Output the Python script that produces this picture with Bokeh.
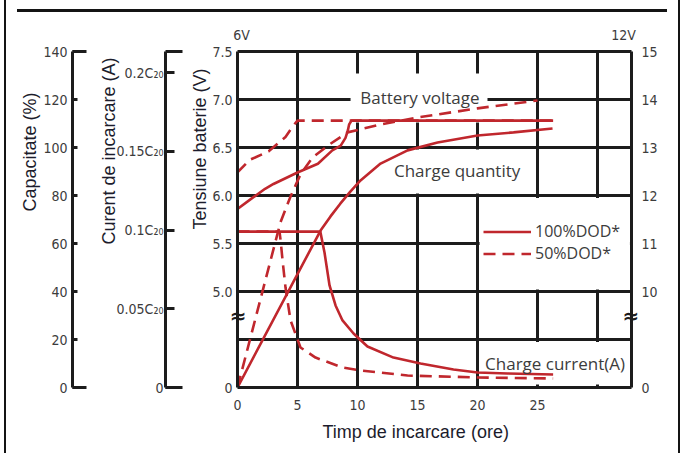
from bokeh.plotting import figure
from bokeh.models import (Range1d, LinearAxis, FixedTicker, Title, Label, Legend,
                          LegendItem, Grid, InlineStyleSheet)
from bokeh.embed import file_html
from bokeh.resources import INLINE

# ---------------- data ----------------
HOUR_MAX = 32.83
CUR_TOP = 0.2134

# battery voltage (6 V scale)
v100_h = [0, 1.3, 2.3, 3.0, 5.0, 6.7, 7.9, 8.6, 9.0, 9.2, 9.3, 9.5, 26.3]
v100_v = [5.86, 5.98, 6.07, 6.12, 6.24, 6.33, 6.47, 6.52, 6.60, 6.68, 6.74, 6.78, 6.78]
v50_h = [0, 1.0, 2.6, 4.0, 4.6, 5.0, 26.3]
v50_v = [6.24, 6.37, 6.46, 6.61, 6.72, 6.78, 6.78]

# charge current (multiples of C20)
i100_h = [0, 6.9, 7.25, 7.67, 8.17, 8.75, 9.67, 10.83, 13.0, 15.25, 18.0, 20.0, 22.5, 26.3]
i100_c = [0.099, 0.099, 0.0857, 0.0648, 0.0521, 0.0426, 0.0343, 0.026, 0.019, 0.0152,
          0.0114, 0.0095, 0.0089, 0.0083]
i50_h = [0, 3.5, 3.6, 3.75, 4.0, 4.42, 5.25, 6.5, 8.75, 10.25, 14.17, 20.0, 26.3]
i50_c = [0.099, 0.099, 0.093, 0.081, 0.0635, 0.0426, 0.0254, 0.019, 0.0127, 0.0108,
         0.0076, 0.0064, 0.0057]

# charge quantity (% of capacity)
q100_h = [0, 6.92, 7.75, 8.58, 9.42, 10.25, 11.92, 14.17, 16.67, 20.0, 23.0, 26.25]
q100_p = [0, 65.4, 71.3, 76.7, 81.7, 86.3, 93.3, 98.8, 102.1, 105.0, 106.3, 107.9]
q50_h = [0, 3.58, 4.42, 5.25, 6.25, 7.67, 9.17, 11.92, 15.0, 20.0, 25.0]
q50_p = [0, 68.8, 79.6, 88.8, 95.8, 101.3, 106.3, 109.6, 112.5, 116.3, 119.6]

# ticks and tick labels
hour_ticks = [0, 5, 10, 15, 20, 25]
grid_hours = [0, 5, 10, 15, 20, 25, 30]
grid_volts = [4.0, 4.5, 5.0, 5.5, 6.0, 6.5, 7.0, 7.5]
volt_ticks = [4.0, 5.0, 5.5, 6.0, 6.5, 7.0, 7.5]
volt_labels = ["0", "5.0", "5.5", "6.0", "6.5", "7.0", "7.5"]
volt12_labels = ["0", "10", "11", "12", "13", "14", "15"]
cap_ticks = [0, 20, 40, 60, 80, 100, 120, 140]
cur_ticks = [0, 0.05, 0.1, 0.15, 0.2]
cur_labels = ["0", "0.05C\u2082\u2080", "0.1C\u2082\u2080", "0.15C\u2082\u2080", "0.2C\u2082\u2080"]
scale_ticks = [0.33, 32.17]
scale_labels = ["6V", "12V"]
break_ticks = [4.75]
break_labels = ["\u2248"]

# ---------------- styles ----------------
RED = "#c0272d"
INK = "#1c1c1c"
GREY = "#3c3c3c"
TITLE_C = "#1c1c2c"
NARROW = "'Liberation Sans Narrow', 'DejaVu Sans Condensed', 'Liberation Sans', sans-serif"
SANS = "Liberation Sans"
GEO = "Open Sans"

p = figure(width=686, height=453, x_range=Range1d(0, HOUR_MAX), y_range=Range1d(4.0, 7.5),
           x_axis_location=None, y_axis_location=None, toolbar_location=None,
           output_backend="svg", min_border_left=237, min_border_right=55,
           min_border_top=51, min_border_bottom=66, outline_line_color=None,
           background_fill_color="white", border_fill_color="white", title=None)
p.extra_y_ranges = {"cap": Range1d(0, 140), "cur": Range1d(0, CUR_TOP)}
p.grid.visible = False
p.stylesheets = [InlineStyleSheet(css="""
:host::before { content: ""; position: absolute; left: 17px; top: 9px; width: 650px;
  height: 3px; background: #141414; z-index: 10; pointer-events: none; }
:host::after { content: ""; position: absolute; left: 4px; top: 0px; width: 676px;
  height: 453px; box-sizing: border-box; border-left: 2px solid #141414;
  border-right: 2px solid #141414; z-index: 10; pointer-events: none; }
""")]

p.add_layout(Grid(dimension=0, ticker=FixedTicker(ticks=grid_hours),
                  grid_line_color=INK, grid_line_width=3))
p.add_layout(Grid(dimension=1, ticker=FixedTicker(ticks=grid_volts),
                  grid_line_color=INK, grid_line_width=3))

AXIS_PROPS = LinearAxis.properties()


def style_axis(ax, standoff, size="14px"):
    ax.axis_line_color = INK
    ax.axis_line_width = 3
    ax.major_label_text_font = NARROW
    ax.major_label_text_font_size = size
    ax.major_label_text_color = GREY
    ax.major_label_standoff = standoff
    ax.major_tick_line_color = INK
    ax.major_tick_line_width = 3
    ax.minor_tick_line_color = INK
    ax.minor_tick_line_width = 3
    ax.major_tick_out = 0
    ax.minor_tick_out = 0
    ax.major_tick_in = 0
    ax.minor_tick_in = 0
    return ax


def break_axis(standoff):
    ax = style_axis(LinearAxis(ticker=FixedTicker(ticks=break_ticks),
                               major_label_overrides=dict(zip(break_ticks, break_labels))),
                    standoff)
    ax.major_label_text_font = "DejaVu Sans"
    ax.major_label_text_font_style = "bold"
    ax.major_label_text_font_size = "20px"
    ax.major_label_text_color = INK
    if "major_label_background_fill_color" in AXIS_PROPS:
        ax.major_label_background_fill_color = "white"
    return ax


def spacer(px):
    return LinearAxis(ticker=FixedTicker(ticks=[7.5]), major_label_overrides={7.5: ""},
                      major_tick_out=px, major_tick_in=0, minor_tick_out=0, minor_tick_in=0,
                      axis_line_color=None, major_tick_line_color=None,
                      minor_tick_line_color=None, major_label_standoff=0)


def side_title(text, offset, standoff, valign="bottom", align="right"):
    return Title(text=text, align=align, offset=offset, standoff=standoff,
                 vertical_align=valign, text_font=SANS, text_font_size="18px",
                 text_font_style="normal", text_color=TITLE_C)


# ---- left side: frame line + break mark, voltage labels, current axis, capacity axis
p.add_layout(break_axis(-9), "left")
v_axis = style_axis(LinearAxis(ticker=FixedTicker(ticks=volt_ticks),
                               major_label_overrides=dict(zip(volt_ticks, volt_labels))), -6)
v_axis.axis_line_color = None
p.add_layout(v_axis, "left")
p.add_layout(side_title("Tensiune baterie (V)", 17, 0), "left")
p.add_layout(spacer(22), "left")

cur_axis = style_axis(LinearAxis(y_range_name="cur",
                                 ticker=FixedTicker(ticks=cur_ticks, minor_ticks=[0, CUR_TOP]),
                                 major_label_overrides=dict(zip(cur_ticks, cur_labels))), 2)
cur_axis.major_tick_in = 9
cur_axis.minor_tick_in = 17
p.add_layout(cur_axis, "left")
p.add_layout(side_title("Curent de incarcare (A)", 6, -10), "left")
p.add_layout(spacer(29), "left")

cap_axis = style_axis(LinearAxis(y_range_name="cap",
                                 ticker=FixedTicker(ticks=cap_ticks, minor_ticks=[0, 140])), 5)
cap_axis.major_tick_in = 5
cap_axis.minor_tick_in = 14
p.add_layout(cap_axis, "left")
p.add_layout(side_title("Capacitate (%)", 41, 2), "left")

# ---- right side: frame line + break mark, 12 V scale
p.add_layout(break_axis(-9), "right")
r_axis = style_axis(LinearAxis(ticker=FixedTicker(ticks=volt_ticks),
                               major_label_overrides=dict(zip(volt_ticks, volt12_labels))), -1)
r_axis.axis_line_color = None
p.add_layout(r_axis, "right")

# ---- above: 6V / 12V markers
t_axis = style_axis(LinearAxis(ticker=FixedTicker(ticks=scale_ticks),
                               major_label_overrides=dict(zip(scale_ticks, scale_labels))), 9)
p.add_layout(t_axis, "above")

# ---- below: hours
x_axis = style_axis(LinearAxis(ticker=FixedTicker(ticks=hour_ticks)), 12)
p.add_layout(x_axis, "below")
p.add_layout(Title(text="Timp de incarcare (ore)", align="left", offset=85, standoff=14,
                   vertical_align="bottom", text_font=SANS, text_font_size="18px",
                   text_font_style="normal", text_color=TITLE_C), "below")

# white boxes behind the in-chart captions
p.quad(left=[9.42, 12.67, 20.17, 20.17], right=[20.83, 24.0, 32.7, 32.7],
       bottom=[6.76, 6.02, 5.02, 4.03], top=[7.27, 6.48, 5.975, 4.475],
       fill_color="white", line_color=None)

# curves
q100 = p.line(q100_h, q100_p, y_range_name="cap", line_color=RED, line_width=2.6)
q50 = p.line(q50_h, q50_p, y_range_name="cap", line_color=RED, line_width=2.6, line_dash="12 7")
c100 = p.line(i100_h, i100_c, y_range_name="cur", line_color=RED, line_width=2.6)
c50 = p.line(i50_h, i50_c, y_range_name="cur", line_color=RED, line_width=2.6, line_dash="12 7")
v50 = p.line(v50_h, v50_v, line_color=RED, line_width=2.6, line_dash="12 7")
v100 = p.line(v100_h, v100_v, line_color=RED, line_width=2.6)

for txt, x, y in [("Battery voltage", 15.2, 7.02), ("Charge quantity", 18.3, 6.26),
                  ("Charge current(A)", 26.46, 4.25)]:
    p.add_layout(Label(x=x, y=y, text=txt, text_align="center", text_baseline="middle",
                       text_font=GEO, text_font_size="17px", text_color=GREY))

legend = Legend(items=[LegendItem(label="100%DOD*", renderers=[v100]),
                       LegendItem(label="50%DOD*", renderers=[v50])],
                location=(246, 123), glyph_width=48, glyph_height=21, label_height=21,
                label_standoff=4, spacing=0, padding=0, margin=0,
                border_line_color=None, background_fill_alpha=0,
                label_text_font=GEO, label_text_font_size="16px", label_text_color=GREY)
p.add_layout(legend)

open("out.html", "w").write(file_html(p, INLINE))
